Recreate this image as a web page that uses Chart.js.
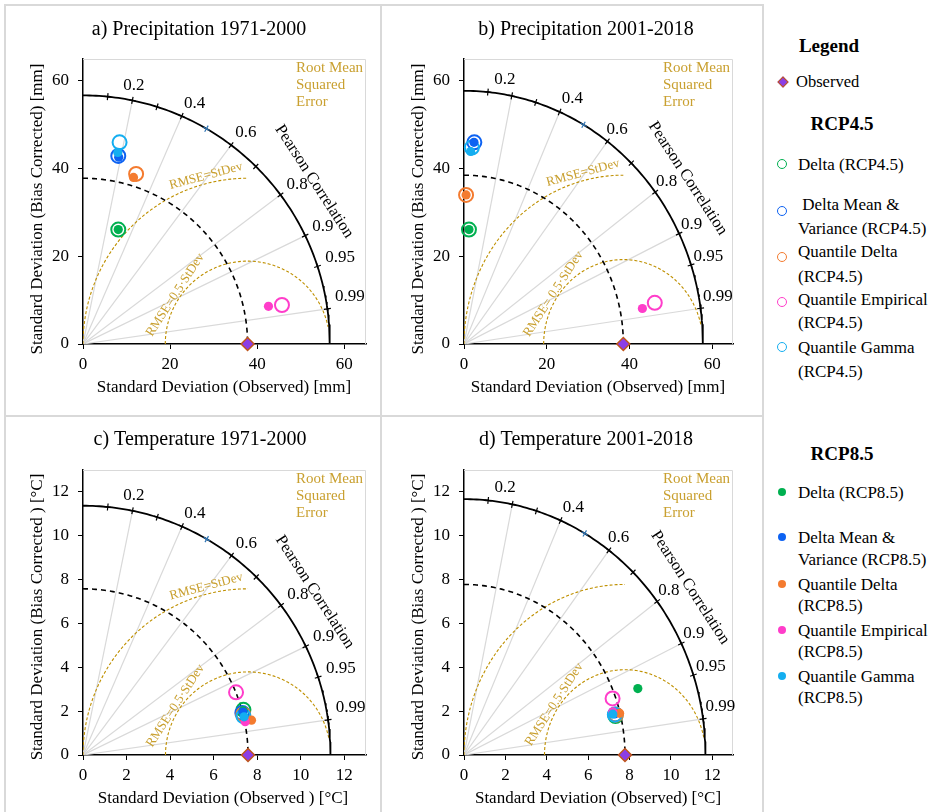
<!DOCTYPE html>
<html>
<head>
<meta charset="utf-8">
<script src="https://cdn.jsdelivr.net/npm/chart.js@4.4.1/dist/chart.umd.min.js"></script>
<style>
  body { margin: 0; background: #fff; width: 936px; height: 812px; overflow: hidden; position: relative;
         font-family: "Liberation Serif", "Times New Roman", serif; }
  canvas { position: absolute; }
  .rule { position: absolute; background: #d9d9d9; }
  .lg { position: absolute; font-size: 17px; line-height: 1; color: #000; white-space: pre; transform: translateY(-50%); }
  .lgh { position: absolute; font-size: 19px; font-weight: bold; line-height: 1; transform: translate(-50%, -50%); }
  .mk { position: absolute; box-sizing: border-box; border-radius: 50%; transform: translate(-50%, -50%); }
  .dia { position: absolute; width: 8px; height: 8px; background: #8b3ee6; border: 1.5px solid #c0561c;
         box-sizing: border-box; transform: translate(-50%, -50%) rotate(45deg); }
</style>
</head>
<body>
<div class="rule" style="left:4px;top:4px;width:2px;height:808px"></div>
<div class="rule" style="left:380px;top:4px;width:2px;height:808px"></div>
<div class="rule" style="left:762px;top:4px;width:2px;height:808px"></div>
<div class="rule" style="left:4px;top:4px;width:760px;height:2px"></div>
<div class="rule" style="left:4px;top:415px;width:760px;height:2px"></div>

<canvas id="pa" width="380" height="410" style="left:0;top:0"></canvas>
<canvas id="pb" width="380" height="410" style="left:380px;top:0"></canvas>
<canvas id="pc" width="380" height="402" style="left:0;top:410px"></canvas>
<canvas id="pd" width="380" height="402" style="left:380px;top:410px"></canvas>
<div id="legend"></div>

<script>
const methodNames = ['Delta', 'Delta Mean & Variance', 'Quantile Delta', 'Quantile Empirical', 'Quantile Gamma'];
const methodColors = ['#00b050', '#0d62f2', '#f47b2f', '#ff3dca', '#14aef0'];
const corrTicks = [0.1, 0.2, 0.3, 0.4, 0.5, 0.6, 0.7, 0.8, 0.9, 0.95, 0.99];
const corrLabels = [0.2, 0.4, 0.6, 0.8, 0.9, 0.95, 0.99];
const corrLines = [0.2, 0.4, 0.6, 0.8, 0.9, 0.99];

// a) Precipitation 1971-2000 [mm]
const precip7100Obs = 37.8;
const precip7100Rcp45X = [8.1, 8.1, 12.2, 45.7, 8.4];
const precip7100Rcp45Y = [26.1, 42.9, 38.8, 8.9, 46.0];
const precip7100Rcp85X = [8.1, 8.2, 11.6, 42.6, 8.0];
const precip7100Rcp85Y = [26.1, 42.6, 38.0, 8.6, 43.7];

// b) Precipitation 2001-2018 [mm]
const precip0118Obs = 38.5;
const precip0118Rcp45X = [1.2, 2.5, 0.5, 46.1, 1.9];
const precip0118Rcp45Y = [26.1, 46.0, 34.0, 9.4, 44.8];
const precip0118Rcp85X = [1.2, 2.4, 0.5, 43.1, 1.6];
const precip0118Rcp85Y = [26.1, 46.0, 34.0, 8.1, 43.9];

// c) Temperature 1971-2000 [°C]
const temp7100Obs = 7.58;
const temp7100Rcp45X = [7.37, 7.32, 7.36, 7.03, 7.37];
const temp7100Rcp45Y = [2.06, 1.92, 1.85, 2.86, 1.77];
const temp7100Rcp85X = [7.36, 7.35, 7.74, 7.45, 7.40];
const temp7100Rcp85Y = [2.02, 1.96, 1.59, 1.52, 1.74];

// d) Temperature 2001-2018 [°C]
const temp0118Obs = 7.78;
const temp0118Rcp45X = [7.32, 7.31, 7.34, 7.18, 7.29];
const temp0118Rcp45Y = [1.78, 1.85, 1.84, 2.58, 1.84];
const temp0118Rcp85X = [8.40, 7.30, 7.52, 7.19, 7.19];
const temp0118Rcp85Y = [3.03, 1.88, 1.90, 1.97, 1.86];

const serif = '"Liberation Serif", "Times New Roman", serif';
const gold = '#bf9000';
const goldText = '#c9a030';

function arc(cx, cy, r, fromDeg, toDeg) {
  const pts = [];
  const n = 120;
  for (let i = 0; i <= n; i++) {
    const a = (fromDeg + (toDeg - fromDeg) * i / n) * Math.PI / 180;
    pts.push({ x: cx + r * Math.cos(a), y: cy + r * Math.sin(a) });
  }
  return pts;
}

function lineSet(data, color, width, dash) {
  return { data, showLine: true, borderColor: color, borderWidth: width, borderDash: dash || [],
           pointRadius: 0, fill: false, tension: 0 };
}

function textPlugin(p) {
  return {
    id: 'panelText',
    beforeDatasetsDraw(chart) {
      const { ctx, chartArea: ca } = chart;
      ctx.save();
      ctx.strokeStyle = '#d9d9d9';
      ctx.lineWidth = 1;
      ctx.beginPath();
      ctx.moveTo(ca.left, ca.top + 0.5);
      ctx.lineTo(ca.right - 0.5, ca.top + 0.5);
      ctx.lineTo(ca.right - 0.5, ca.bottom);
      ctx.stroke();
      ctx.restore();
    },
    afterDatasetsDraw(chart) {
      const { ctx, chartArea: ca } = chart;
      const xs = chart.scales.x, ys = chart.scales.y;
      const px = v => xs.getPixelForValue(v), py = v => ys.getPixelForValue(v);
      const R = p.obs * 1.5;
      const rad = d => d * Math.PI / 180;
      ctx.save();
      ctx.fillStyle = '#000';

      ctx.font = '20px ' + serif;
      ctx.textAlign = 'center';
      ctx.textBaseline = 'middle';
      ctx.fillText(p.title, p.titleX, p.titleY);

      ctx.font = '17px ' + serif;
      ctx.fillText(p.xTitle, p.xTitleX, p.xTitleY);
      ctx.save();
      ctx.translate(p.yTitleX, p.yTitleY);
      ctx.rotate(-Math.PI / 2);
      ctx.fillText(p.yTitle, 0, 0);
      ctx.restore();

      // correlation labels
      ctx.textAlign = 'left';
      ctx.textBaseline = 'alphabetic';
      corrLabels.forEach(c => {
        const off = c === 0.2 ? p.lab02 : (c === 0.99 ? 1.4 : 0.3);
        const a = Math.acos(c) + rad(off);
        const dx = c >= 0.6 ? p.labDx : 0;
        ctx.fillText(String(c), px(1.035 * R * Math.cos(a)) + dx, py(1.035 * R * Math.sin(a)));
      });

      // Pearson Correlation
      ctx.save();
      ctx.font = '16.5px ' + serif;
      ctx.textAlign = 'center';
      ctx.textBaseline = 'middle';
      ctx.translate(px(1.14 * R * Math.cos(rad(35.5))) + 2, py(1.14 * R * Math.sin(rad(35.5))) + 2);
      ctx.rotate(rad(57));
      ctx.fillText('Pearson Correlation', 0, 0);
      ctx.restore();

      // RMSE texts
      ctx.fillStyle = goldText;
      ctx.font = '15px ' + serif;
      ctx.textAlign = 'left';
      ctx.textBaseline = 'middle';
      ['Root Mean', 'Squared', 'Error'].forEach((t, i) => ctx.fillText(t, ca.right - 70, ca.top + 9 + i * 17));

      ctx.font = '13px ' + serif;
      ctx.textAlign = 'center';
      if (p.rmse1) {
        ctx.save();
        const a = rad(104), r = 1.045 * p.obs;
        ctx.translate(px(p.obs + r * Math.cos(a)), py(r * Math.sin(a)));
        ctx.rotate(rad(-15));
        ctx.fillText(p.rmse1, 0, 0);
        ctx.restore();
      }
      ctx.save();
      const a2 = rad(146), r2 = 1.06 * p.obs / 2;
      ctx.translate(px(p.obs + r2 * Math.cos(a2)), py(r2 * Math.sin(a2)));
      ctx.rotate(rad(-57));
      ctx.fillText(p.rmse2, 0, 0);
      ctx.restore();

      ctx.restore();
    }
  };
}

function drawPanel(id, p) {
  const R = p.obs * 1.5;
  const sets = [];
  corrLines.forEach(c => {
    const a = Math.acos(c);
    sets.push(lineSet([{ x: 0, y: 0 }, { x: R * Math.cos(a), y: R * Math.sin(a) }], '#d9d9d9', 1.2));
  });
  sets.push(lineSet(arc(p.obs, 0, p.obs, 180, 90), gold, 1.1, [3, 2]));
  sets.push(lineSet(arc(p.obs, 0, p.obs / 2, 180, 12), gold, 1.1, [3, 2]));
  sets.push(lineSet(arc(0, 0, p.obs, 90, 0), '#000', 1.6, [5, 4]));
  sets.push(lineSet(arc(0, 0, R, 90, 0), '#000', 1.8));
  sets.push({
    data: corrTicks.map(c => ({ x: R * c, y: R * Math.sqrt(1 - c * c) })),
    pointStyle: 'cross', pointRadius: 3.5, pointBorderWidth: 1.2,
    pointBorderColor: corrTicks.map(c => c === 0.5 ? '#2e75b6' : '#000'),
    pointRotation: corrTicks.map(c => -Math.acos(c) * 180 / Math.PI)
  });
  methodColors.forEach((col, i) => sets.push({
    label: methodNames[i] + ' (RCP4.5)', data: [{ x: p.r45x[i], y: p.r45y[i] }],
    pointRadius: 7, pointBorderWidth: 2, pointBorderColor: col, pointBackgroundColor: 'rgba(0,0,0,0)', clip: false
  }));
  methodColors.forEach((col, i) => sets.push({
    label: methodNames[i] + ' (RCP8.5)', data: [{ x: p.r85x[i], y: p.r85y[i] }],
    pointRadius: 4.6, pointBorderWidth: 0, pointBackgroundColor: col, pointBorderColor: col, clip: false
  }));
  sets.push({
    label: 'Observed', data: [{ x: p.obs, y: 0 }], pointStyle: 'rectRot', pointRadius: 6.5,
    pointBackgroundColor: '#8b3ee6', pointBorderColor: '#c0561c', pointBorderWidth: 1.5, clip: false
  });
  sets.reverse();

  const tickFont = { family: serif, size: 17 };
  new Chart(document.getElementById(id), {
    type: 'scatter',
    data: { datasets: sets },
    options: {
      responsive: false,
      animation: false,
      events: [],
      layout: { padding: { top: p.top, right: p.right, left: 0, bottom: 0 } },
      plugins: { legend: { display: false }, tooltip: { enabled: false } },
      scales: {
        x: {
          type: 'linear', min: 0, max: p.max,
          ticks: { stepSize: p.step, includeBounds: false, color: '#000', font: tickFont, padding: 5, maxRotation: 0 },
          grid: { drawOnChartArea: false, drawTicks: true, tickLength: 5, tickColor: '#000' },
          border: { color: '#000', width: 1.5 },
          afterFit: s => { s.height = p.xh; }
        },
        y: {
          type: 'linear', min: 0, max: p.max,
          ticks: { stepSize: p.step, includeBounds: false, color: '#000', font: tickFont, padding: 9 },
          grid: { drawOnChartArea: false, drawTicks: true, tickLength: 5, tickColor: '#000' },
          border: { color: '#000', width: 1.5 },
          afterFit: s => { s.width = p.yw; }
        }
      }
    },
    plugins: [textPlugin(p)]
  });
}

drawPanel('pa', {
  obs: precip7100Obs, r45x: precip7100Rcp45X, r45y: precip7100Rcp45Y, r85x: precip7100Rcp85X, r85y: precip7100Rcp85Y,
  max: 65, step: 20, top: 59, right: 14, xh: 66, yw: 83, lab02: 2.5, labDx: 0,
  title: 'a) Precipitation 1971-2000', titleX: 199, titleY: 30,
  xTitle: 'Standard Deviation (Observed) [mm]', xTitleX: 224, xTitleY: 388,
  yTitle: 'Standard Deviation (Bias Corrected) [mm]', yTitleX: 38, yTitleY: 209,
  rmse1: 'RMSE=StDev', rmse2: 'RMSE=0.5·StDev'
});
drawPanel('pb', {
  obs: precip0118Obs, r45x: precip0118Rcp45X, r45y: precip0118Rcp45Y, r85x: precip0118Rcp85X, r85y: precip0118Rcp85Y,
  max: 65, step: 20, top: 59, right: 27, xh: 66, yw: 84, lab02: 4.5, labDx: -5,
  title: 'b) Precipitation 2001-2018', titleX: 206, titleY: 30,
  xTitle: 'Standard Deviation (Observed) [mm]', xTitleX: 218, xTitleY: 388,
  yTitle: 'Standard Deviation (Bias Corrected) [mm]', yTitleX: 39, yTitleY: 209,
  rmse1: 'RMSE=StDev', rmse2: 'RMSE= 0.5·StDev'
});
drawPanel('pc', {
  obs: temp7100Obs, r45x: temp7100Rcp45X, r45y: temp7100Rcp45Y, r85x: temp7100Rcp85X, r85y: temp7100Rcp85Y,
  max: 13, step: 2, top: 60, right: 14, xh: 57, yw: 83, lab02: 2.5, labDx: 0,
  title: 'c) Temperature 1971-2000', titleX: 200, titleY: 30,
  xTitle: 'Standard Deviation (Observed ) [°C]', xTitleX: 223, xTitleY: 389,
  yTitle: 'Standard Deviation (Bias Corrected ) [°C]', yTitleX: 38, yTitleY: 207,
  rmse1: 'RMSE=StDev', rmse2: 'RMSE=0.5·StDev'
});
drawPanel('pd', {
  obs: temp0118Obs, r45x: temp0118Rcp45X, r45y: temp0118Rcp45Y, r85x: temp0118Rcp85X, r85y: temp0118Rcp85Y,
  max: 13, step: 2, top: 60, right: 27, xh: 57, yw: 84, lab02: 4.5, labDx: -5,
  title: 'd) Temperature 2001-2018', titleX: 206, titleY: 30,
  xTitle: 'Standard Deviation (Observed) [°C]', xTitleX: 218, xTitleY: 389,
  yTitle: 'Standard Deviation (Bias Corrected ) [°C]', yTitleX: 39, yTitleY: 207,
  rmse1: null, rmse2: 'RMSE=0.5·StDev'
});

// legend
const legendLines45 = [['Delta (RCP4.5)'], [' Delta Mean &', 'Variance (RCP4.5)'], ['Quantile Delta', '(RCP4.5)'],
                       ['Quantile Empirical', '(RCP4.5)'], ['Quantile Gamma', '(RCP4.5)']];
const legendLines85 = [['Delta (RCP8.5)'], ['Delta Mean &', 'Variance (RCP8.5)'], ['Quantile Delta', '(RCP8.5)'],
                       ['Quantile Empirical', '(RCP8.5)'], ['Quantile Gamma', '(RCP8.5)']];
const marker45Y = [164, 211, 257, 302, 347];
const text45Y = [[164], [204, 228], [251, 276], [299, 322], [347, 371]];
const marker85Y = [492, 537, 584, 630, 676];
const text85Y = [[492], [537, 559], [584, 605], [630, 651], [676, 697]];

const lg = document.getElementById('legend');
function add(html) { lg.insertAdjacentHTML('beforeend', html); }
add('<div class="lgh" style="left:829px;top:45px">Legend</div>');
add('<div class="dia" style="left:783px;top:82px"></div>');
add('<div class="lg" style="left:796px;top:82px;font-size:16.5px">Observed</div>');
add('<div class="lgh" style="left:842px;top:123px">RCP4.5</div>');
add('<div class="lgh" style="left:842px;top:453px">RCP8.5</div>');
methodColors.forEach((col, i) => {
  add(`<div class="mk" style="left:782px;top:${marker45Y[i]}px;width:10px;height:10px;border:1.8px solid ${col}"></div>`);
  legendLines45[i].forEach((t, j) => add(`<div class="lg" style="left:798px;top:${text45Y[i][j]}px">${t.replace('&', '&amp;')}</div>`));
  add(`<div class="mk" style="left:782px;top:${marker85Y[i]}px;width:8px;height:8px;background:${col}"></div>`);
  legendLines85[i].forEach((t, j) => add(`<div class="lg" style="left:798px;top:${text85Y[i][j]}px">${t.replace('&', '&amp;')}</div>`));
});
</script>
</body>
</html>
